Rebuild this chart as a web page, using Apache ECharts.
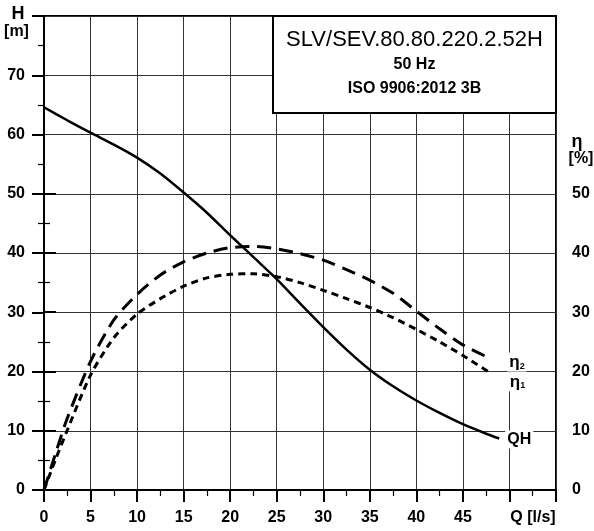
<!DOCTYPE html>
<html>
<head>
<meta charset="utf-8">
<script src="https://cdn.jsdelivr.net/npm/echarts@6/dist/echarts.min.js"></script>
<style>
html,body{margin:0;padding:0;background:#fff;}
#c{width:594px;height:531px;}
</style>
</head>
<body>
<div id="c"></div>
<script>
// Flow Q [l/s] and head H [m]
const qhQ = [0, 2.5, 5, 7.5, 10, 12.5, 15, 17.5, 20, 22.5, 25, 27.5, 30, 32.5, 35, 37.5, 40, 42.5, 45, 47.5, 48.9];
const qhH = [64.6, 62.4, 60.3, 58.3, 56.1, 53.4, 50.2, 46.8, 43.0, 39.3, 35.6, 31.5, 27.5, 23.7, 20.3, 17.5, 15.1, 13.0, 11.1, 9.5, 8.7];
// Efficiency eta2 (long dash)
const eta2Q = [0, 1.25, 2.5, 5, 7.5, 10, 12.5, 15, 17.5, 20, 22.5, 25, 27.5, 30, 32.5, 35, 37.5, 40, 42.5, 45, 47.4];
const eta2V = [0, 6.2, 12.1, 21.7, 28.7, 33.0, 36.3, 38.5, 40.0, 40.9, 41.1, 40.7, 39.9, 38.8, 37.2, 35.4, 33.2, 30.2, 27.2, 24.5, 22.6];
// Efficiency eta1 (short dash)
const eta1Q = [0, 1.25, 2.5, 5, 7.5, 10, 12.5, 15, 17.5, 20, 22.5, 25, 27.5, 30, 32.5, 35, 37.5, 40, 42.5, 45, 48.1];
const eta1V = [0, 5.2, 10.1, 19.4, 25.7, 29.7, 32.3, 34.4, 35.8, 36.4, 36.5, 36.0, 35.0, 33.7, 32.3, 30.8, 29.1, 27.1, 25.0, 22.7, 19.6];

const titleLines = ['SLV/SEV.80.80.220.2.52H', '50 Hz', 'ISO 9906:2012 3B'];

const zip = (a, b) => a.map((v, i) => [v, b[i]]);
const FONT = 'Liberation Sans, Arial, sans-serif';
const lblStyle = {color: '#000', fontSize: 16, fontWeight: 'bold', fontFamily: FONT};

const chart = echarts.init(document.getElementById('c'), null, {renderer: 'canvas'});
const option = {
  backgroundColor: '#fff',
  animation: false,
  grid: [
    {left: 44, right: 38, top: 16, bottom: 41, show: true, borderColor: '#000', borderWidth: 2, backgroundColor: 'transparent'},
    {left: 44, right: 38, top: 193.5, bottom: 41, show: false}
  ],
  xAxis: [
    {gridIndex: 0, type: 'value', min: 0, max: 55, interval: 5,
     axisLine: {show: true, lineStyle: {color: '#000', width: 2}},
     axisTick: {show: true, length: 12, lineStyle: {color: '#000', width: 2}},
     minorTick: {show: true, splitNumber: 2, length: 6, lineStyle: {color: '#000', width: 1.2}},
     splitLine: {show: true, lineStyle: {color: '#333', width: 1}},
     axisLabel: Object.assign({margin: 20, formatter: v => (v <= 45 ? String(v) : '')}, lblStyle)},
    {gridIndex: 1, type: 'value', min: 0, max: 55, show: false}
  ],
  yAxis: [
    {gridIndex: 0, type: 'value', min: 0, max: 80, interval: 10, position: 'left',
     axisLine: {show: true, lineStyle: {color: '#000', width: 2}},
     axisTick: {show: true, length: 12, lineStyle: {color: '#000', width: 2}},
     minorTick: {show: true, splitNumber: 2, length: 6, lineStyle: {color: '#000', width: 1.2}},
     splitLine: {show: true, lineStyle: {color: '#333', width: 1}},
     axisLabel: Object.assign({margin: 19, formatter: v => (v < 80 ? String(v) : '')}, lblStyle)},
    {gridIndex: 1, type: 'value', min: 0, max: 50, interval: 10, position: 'right',
     axisLine: {show: true, lineStyle: {color: '#000', width: 2}},
     axisTick: {show: true, length: 12, lineStyle: {color: '#000', width: 2}},
     minorTick: {show: true, splitNumber: 2, length: 6, lineStyle: {color: '#000', width: 1.2}},
     splitLine: {show: false},
     axisLabel: Object.assign({margin: 16}, lblStyle)}
  ],
  series: [
    {name: 'QH', type: 'line', xAxisIndex: 0, yAxisIndex: 0, data: zip(qhQ, qhH), smooth: 0.25, showSymbol: false,
     lineStyle: {color: '#000', width: 2.5}, z: 5,
     endLabel: {show: true, formatter: 'QH', position: 'right', distance: 0, offset: [6, 1],
       backgroundColor: '#fff', padding: [1, 2], color: '#000', fontSize: 16, fontWeight: 'bold', fontFamily: FONT}},
    {name: 'eta2', type: 'line', xAxisIndex: 0, yAxisIndex: 0, data: zip(eta2Q, eta2V), smooth: 0.25, showSymbol: false,
     lineStyle: {color: '#000', width: 3, type: [14, 8]}, z: 4,
     endLabel: {show: true, formatter: '{a|η}{b|2}', position: 'right', distance: 0, offset: [22, 6],
       backgroundColor: '#fff', padding: [1, 2],
       rich: {a: {color: '#000', fontSize: 17, fontWeight: 'bold', fontFamily: FONT},
              b: {color: '#000', fontSize: 9, fontWeight: 'bold', fontFamily: FONT, verticalAlign: 'bottom', padding: [7, 0, 0, 0]}}}},
    {name: 'eta1', type: 'line', xAxisIndex: 0, yAxisIndex: 0, data: zip(eta1Q, eta1V), smooth: 0.25, showSymbol: false,
     lineStyle: {color: '#000', width: 3, type: [7, 5]}, z: 4,
     endLabel: {show: true, formatter: '{a|η}{b|1}', position: 'right', distance: 0, offset: [16, 8],
       backgroundColor: '#fff', padding: [1, 2],
       rich: {a: {color: '#000', fontSize: 17, fontWeight: 'bold', fontFamily: FONT},
              b: {color: '#000', fontSize: 9, fontWeight: 'bold', fontFamily: FONT, verticalAlign: 'bottom', padding: [7, 0, 0, 0]}}}}
  ],
  graphic: [
    {type: 'rect', z: 100, shape: {x: 273, y: 16, width: 283, height: 97},
     style: {fill: '#fff', stroke: '#000', lineWidth: 2}},
    {type: 'text', z: 101, x: 414.5, y: 40, style: {text: titleLines[0], fill: '#000', font: 'normal 22px ' + FONT, textAlign: 'center', textVerticalAlign: 'middle'}},
    {type: 'text', z: 101, x: 414.5, y: 65, style: {text: titleLines[1], fill: '#000', font: 'bold 16px ' + FONT, textAlign: 'center', textVerticalAlign: 'middle'}},
    {type: 'text', z: 101, x: 414.5, y: 89, style: {text: titleLines[2], fill: '#000', font: 'bold 16px ' + FONT, textAlign: 'center', textVerticalAlign: 'middle'}},
    {type: 'text', z: 101, x: 18, y: 14, style: {text: 'H', fill: '#000', font: 'bold 18px ' + FONT, textAlign: 'center', textVerticalAlign: 'middle'}},
    {type: 'text', z: 101, x: 16.5, y: 32, style: {text: '[m]', fill: '#000', font: 'bold 16px ' + FONT, textAlign: 'center', textVerticalAlign: 'middle'}},
    {type: 'text', z: 101, x: 577, y: 142, style: {text: 'η', fill: '#000', font: 'bold 18px ' + FONT, textAlign: 'center', textVerticalAlign: 'middle'}},
    {type: 'text', z: 101, x: 581, y: 159, style: {text: '[%]', fill: '#000', font: 'bold 16px ' + FONT, textAlign: 'center', textVerticalAlign: 'middle'}},
    {type: 'text', z: 101, x: 533, y: 518, style: {text: 'Q [l/s]', fill: '#000', font: 'bold 16px ' + FONT, textAlign: 'center', textVerticalAlign: 'middle'}}
  ]
};
chart.setOption(option);
</script>
</body>
</html>
